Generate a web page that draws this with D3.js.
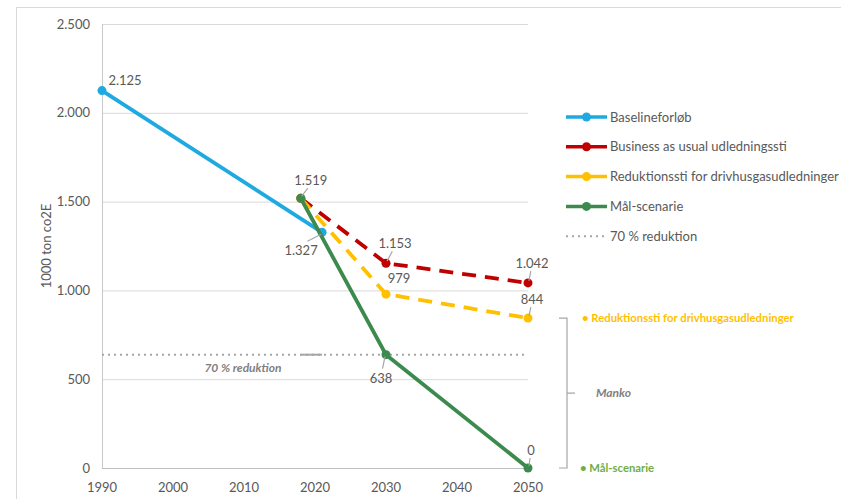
<!DOCTYPE html>
<html lang="da">
<head>
<meta charset="utf-8">
<script src="https://d3js.org/d3.v7.min.js"></script>
<style>
  body { margin: 0; background: #fff; }
  text { font-family: Lato, "Open Sans", sans-serif; fill: #595959; }
</style>
</head>
<body>
<div id="chart"></div>
<script>
// data
const baseYears = [1990, 2021];
const baseValues = [2125, 1327];
const busYears = [2018, 2030, 2050];
const busValues = [1519, 1153, 1042];
const redYears = [2018, 2030, 2050];
const redValues = [1519, 979, 844];
const goalYears = [2018, 2030, 2050];
const goalValues = [1519, 638, 0];
const reductionLevel = 638;
const xTicks = [1990, 2000, 2010, 2020, 2030, 2040, 2050];
const yTicks = [0, 500, 1000, 1500, 2000, 2500];
const fmt = v => d3.format(",")(v).replace(/,/g, ".");

const W = 841, H = 499;
const svg = d3.select("#chart").append("svg").attr("width", W).attr("height", H);

// outer chart border
svg.append("rect").attr("x", 16.5).attr("y", 7.5).attr("width", W).attr("height", H)
  .attr("fill", "none").attr("stroke", "#d9d9d9");

const x = d3.scaleLinear().domain([1990, 2050]).range([102, 528]);
const y = d3.scaleLinear().domain([0, 2500]).range([468, 24]);

// grid
svg.append("g").selectAll("line").data(yTicks.filter(d => d > 0)).join("line")
  .attr("x1", x(1990)).attr("x2", x(2050))
  .attr("y1", d => y(d) + 0.5).attr("y2", d => y(d) + 0.5)
  .attr("stroke", "#d9d9d9");

// axes lines
svg.append("line").attr("x1", x(1990) + 0.5).attr("x2", x(1990) + 0.5)
  .attr("y1", y(2500)).attr("y2", y(0)).attr("stroke", "#c8c8c8");
svg.append("line").attr("x1", x(1990)).attr("x2", x(2050))
  .attr("y1", y(0) + 0.5).attr("y2", y(0) + 0.5).attr("stroke", "#bfbfbf");

// tick labels
svg.append("g").selectAll("text").data(yTicks).join("text")
  .attr("x", x(1990) - 12).attr("y", d => y(d) + 4.5)
  .attr("text-anchor", "end").style("font-size", "13px").text(fmt);
svg.append("g").selectAll("text").data(xTicks).join("text")
  .attr("x", d => x(d)).attr("y", y(0) + 24)
  .attr("text-anchor", "middle").style("font-size", "13px").text(d => d);

svg.append("text").attr("transform", `translate(51,${y(1250)}) rotate(-90)`)
  .attr("text-anchor", "middle").style("font-size", "13px").text("1000 ton co2E");

// 70% line
svg.append("line").attr("x1", x(1990)).attr("x2", x(2050))
  .attr("y1", y(reductionLevel)).attr("y2", y(reductionLevel))
  .attr("stroke", "#a6a6a6").attr("stroke-width", 2).attr("stroke-dasharray", "2,4");
svg.append("line").attr("x1", x(2018)).attr("x2", x(2021))
  .attr("y1", y(reductionLevel)).attr("y2", y(reductionLevel))
  .attr("stroke", "#a6a6a6").attr("stroke-width", 2);
svg.append("text").attr("x", x(2010) - 1).attr("y", y(reductionLevel) + 17)
  .attr("text-anchor", "middle").style("font-size", "12px")
  .style("font-style", "italic").style("font-weight", "bold").style("fill", "#7f7f7f")
  .text("70 % reduktion");

const series = [
  { name: "Baselineforløb", years: baseYears, values: baseValues, color: "#1fa9e1", dash: null },
  { name: "Business as usual udledningssti", years: busYears, values: busValues, color: "#c00000", dash: "14,9" },
  { name: "Reduktionssti for drivhusgasudledninger", years: redYears, values: redValues, color: "#ffc000", dash: "14,9" },
  { name: "Mål-scenarie", years: goalYears, values: goalValues, color: "#3c8a4e", dash: null }
];

const line = d3.line().x(d => x(d[0])).y(d => y(d[1]));
series.forEach(s => {
  const pts = s.years.map((yr, i) => [yr, s.values[i]]);
  svg.append("path").datum(pts).attr("d", line)
    .attr("fill", "none").attr("stroke", s.color).attr("stroke-width", 3.8)
    .attr("stroke-dasharray", s.dash);
  svg.append("g").selectAll("circle").data(pts).join("circle")
    .attr("cx", d => x(d[0])).attr("cy", d => y(d[1])).attr("r", 4.5)
    .attr("fill", s.color);
});

// data labels: [year, value, dx, dy, leader]
const labelSpots = [
  [1990, 2125, 23, -6, false],
  [2018, 1519, 10, -13, true],
  [2021, 1327, -21, 23, true],
  [2030, 1153, 9, -15, true],
  [2030, 979, 13, -11, false],
  [2030, 638, -5, 28, true],
  [2050, 1042, 4, -15, true],
  [2050, 844, 4, -14, true],
  [2050, 0, 3, -13, true]
];
labelSpots.forEach(([yr, v, dx, dy, leader]) => {
  const px = x(yr), py = y(v);
  svg.append("text").attr("x", px + dx).attr("y", py + dy)
    .attr("text-anchor", "middle").style("font-size", "13px").text(fmt(v));
  if (leader) {
    const up = dy < 0;
    const ex = px + dx * 0.7, ey = up ? py + dy + 3 : py + dy - 14;
    svg.append("line").attr("x1", px + (dx > 0 ? 1 : -1)).attr("y1", py + (up ? -2 : 2))
      .attr("x2", ex).attr("y2", ey)
      .attr("stroke", "#a6a6a6").attr("stroke-width", 1.2);
  }
});

// legend
const legendItems = series.map(s => ({ name: s.name, color: s.color, marker: true }))
  .concat([{ name: "70 % reduktion", color: "#a6a6a6", marker: false }]);
const lg = svg.append("g").selectAll("g").data(legendItems).join("g")
  .attr("transform", (d, i) => `translate(566,${117 + i * 29.8})`);
lg.append("line").attr("x1", 0).attr("x2", 41).attr("y1", 0).attr("y2", 0)
  .attr("stroke", d => d.color).attr("stroke-width", d => d.marker ? 3.5 : 2)
  .attr("stroke-dasharray", d => d.marker ? null : "2,4");
lg.filter(d => d.marker).append("circle").attr("cx", 20.5).attr("cy", 0).attr("r", 4.5)
  .attr("fill", d => d.color);
lg.append("text").attr("x", 44).attr("y", 4.5).style("font-size", "13px").text(d => d.name);

// bracket annotation
const bx = 567;
svg.append("path")
  .attr("d", `M${bx - 8},${y(844)} H${bx} V${y(0)} H${bx - 8} M${bx},${y(422)} H${bx + 8}`)
  .attr("fill", "none").attr("stroke", "#a6a6a6").attr("stroke-width", 1.2);
svg.append("text").attr("x", 596).attr("y", y(422) + 4).style("font-size", "12px")
  .style("font-style", "italic").style("font-weight", "bold").style("fill", "#7f7f7f").text("Manko");
svg.append("text").attr("x", 582).attr("y", y(844) + 4).style("font-size", "11.3px")
  .style("font-weight", "bold").style("fill", "#ffc000").text("• Reduktionssti for drivhusgasudledninger");
svg.append("text").attr("x", 580).attr("y", y(0) + 4).style("font-size", "11.3px")
  .style("font-weight", "bold").style("fill", "#70ad47").text("• Mål-scenarie");
</script>
</body>
</html>
